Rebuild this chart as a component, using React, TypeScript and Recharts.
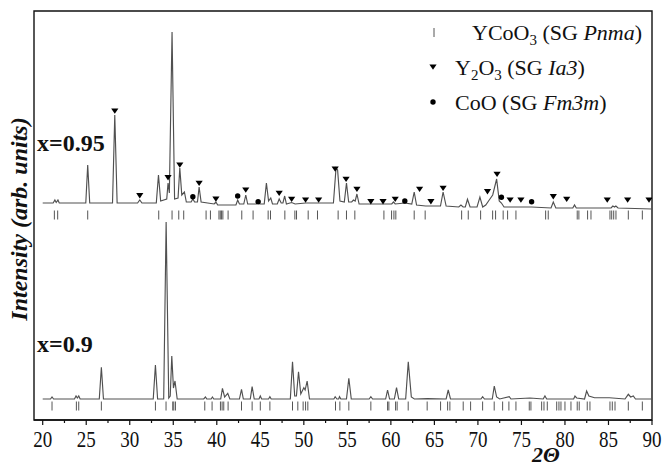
import { ComposedChart, Line, Scatter, XAxis, YAxis, ReferenceArea } from "recharts";

// XRD patterns of YCo(x)O3 samples, [2theta, intensity] pairs (arb. units)
const PATTERN_095: [number, number][] = [
  [20, 12], [21.2, 12], [21.4, 15], [21.55, 12.5], [21.75, 15], [21.9, 12],
  [24.95, 12], [25.17, 50], [25.4, 12], [28.02, 12], [28.28, 100], [28.55, 12],
  [30.9, 12], [31.15, 15], [31.4, 12], [33.05, 12], [33.3, 40], [33.55, 14],
  [34.25, 16], [34.4, 32], [34.55, 22], [34.86, 183], [35.15, 16], [35.55, 17],
  [35.75, 47], [35.98, 20], [36.28, 23], [36.5, 13], [37.05, 13], [37.25, 16],
  [37.45, 13], [37.78, 13], [37.97, 28], [38.2, 13], [39.7, 11], [39.9, 13],
  [40.1, 10], [42.2, 10], [42.4, 15], [42.6, 11], [43.1, 11], [43.33, 20],
  [43.55, 11], [44.55, 11], [44.75, 13.5], [44.95, 11], [45.45, 11], [45.7, 32],
  [45.95, 14], [46.2, 17], [46.4, 11], [46.95, 11], [47.17, 16], [47.4, 12],
  [47.6, 12], [47.8, 19], [48.0, 11], [48.6, 12.5], [49.0, 11], [50.2, 12],
  [51.7, 12], [53.4, 12], [53.7, 47], [53.88, 45], [54.15, 14], [54.65, 13],
  [54.9, 32], [55.15, 13], [55.5, 13], [55.7, 15], [55.9, 14], [56.1, 21],
  [56.35, 11], [57.7, 11], [59.1, 11], [60.1, 11], [60.3, 13], [60.5, 11],
  [61.6, 12], [62.4, 11], [62.68, 23], [62.95, 10], [64.0, 9], [65.7, 9],
  [66.0, 23], [66.35, 9], [67.8, 8], [68.05, 10], [68.3, 8], [68.55, 8],
  [68.8, 15.7], [69.1, 8], [69.9, 8], [70.23, 18], [70.55, 8], [70.9, 10],
  [71.3, 15], [71.7, 20], [72.15, 36], [72.45, 14], [72.7, 12], [73.0, 8],
  [76.17, 8], [78.4, 7], [78.66, 13], [78.95, 7], [80.9, 7], [81.1, 10],
  [81.3, 7], [85.3, 7], [85.5, 9], [85.7, 8], [85.85, 9], [86.1, 7], [90, 6],
];

const PATTERN_09: [number, number][] = [
  [20, 11], [20.9, 11], [21.07, 13], [21.25, 11], [23.65, 11], [23.83, 14],
  [23.98, 12], [24.14, 14], [24.3, 11], [26.5, 11], [26.74, 42.7], [26.98, 11],
  [32.7, 11], [32.95, 45], [33.2, 11], [33.9, 11], [34.18, 188], [34.48, 12],
  [34.65, 14], [34.83, 54], [35.02, 22], [35.2, 29], [35.45, 11], [38.5, 11],
  [38.7, 13], [38.85, 11], [39.35, 11], [39.5, 13], [39.65, 11], [40.45, 11],
  [40.65, 21.7], [40.9, 13], [41.26, 16.7], [41.5, 11], [42.6, 11], [42.84, 20.7],
  [43.05, 11], [43.85, 11], [44.06, 23.3], [44.3, 11], [44.85, 11], [45.0, 14],
  [45.15, 11], [45.95, 11], [46.1, 13.3], [46.25, 11], [48.45, 11], [48.7, 48.3],
  [48.95, 14], [49.15, 14], [49.39, 38.3], [49.65, 16], [50.0, 22.3], [50.15, 20],
  [50.38, 29], [50.65, 11], [53.45, 11], [53.6, 13.3], [53.8, 11], [54.0, 11],
  [54.1, 13.3], [54.25, 11], [54.9, 11], [55.17, 31.7], [55.45, 11], [57.5, 11],
  [57.7, 13.3], [57.9, 11], [59.4, 11], [59.62, 20], [59.85, 11], [60.4, 11],
  [60.65, 22.3], [60.9, 11], [61.7, 11], [62.0, 48.3], [62.35, 13], [62.7, 11],
  [64.2, 11.3], [66.35, 11], [66.59, 20], [66.85, 11], [70.35, 11], [70.54, 13.3],
  [70.75, 11], [71.65, 11], [71.88, 24], [72.15, 13], [72.5, 11], [73.6, 13.3],
  [73.8, 11], [75.98, 12], [77.5, 11], [77.7, 14], [77.9, 11], [81.0, 11],
  [81.15, 14], [81.35, 12], [82.25, 11], [82.49, 19], [82.75, 14], [83.4, 12.3],
  [84.4, 12.3], [85.1, 12.3], [86.9, 11], [87.28, 15.7], [87.55, 13], [87.85, 14],
  [88.1, 11], [90, 11],
];

// YCoO3 (Pnma) reflection positions drawn under each pattern
const BRAGG_095 = [
  21.34, 21.72, 25.17, 33.33, 34.86, 35.63, 36.2, 38.77, 39.27, 40.25, 40.4, 40.55,
  40.7, 41.3, 42.87, 44.17, 45.9, 46.17, 47.82, 48.97, 49.16, 50.5, 51.57, 53.94,
  54.9, 55.86, 59.2, 60.08, 60.35, 60.57, 62.68, 63.94, 68.13, 68.89, 70.31, 71.69,
  72.03, 72.9, 73.41, 74.37, 77.78, 78.08, 81.41, 81.6, 82.6, 82.99, 85.17, 85.37,
  85.6, 85.86, 87.28, 88.89,
];
const BRAGG_09 = [
  21.07, 23.87, 24.14, 26.74, 32.95, 34.17, 34.94, 35.06, 35.25, 38.62, 39.46, 40.42,
  40.61, 40.8, 41.3, 42.84, 44.06, 45.0, 46.1, 48.7, 49.31, 49.92, 50.2, 50.46,
  53.64, 54.14, 55.17, 57.7, 59.62, 59.77, 60.54, 60.72, 61.99, 64.17, 65.71, 66.52,
  66.78, 68.31, 69.16, 70.54, 71.87, 72.84, 73.56, 74.37, 75.9, 76.09, 77.32, 77.59,
  77.97, 79.05, 79.31, 79.54, 80.0, 80.69, 81.41, 81.64, 82.56, 82.87, 85.17, 85.44,
  85.75, 87.28, 88.89,
];

// impurity reflections marked above the x=0.95 pattern
const Y2O3_MARKS: [number, number][] = [
  [28.28, 104], [31.15, 19.3], [34.4, 37.3], [35.75, 50], [37.97, 31.7], [39.9, 16],
  [43.33, 25], [47.17, 21.7], [48.6, 15.7], [50.2, 15], [51.7, 15], [53.6, 46],
  [54.85, 35.7], [56.1, 25.7], [57.7, 13.3], [59.1, 13.3], [60.5, 15.7], [63.3, 25.7],
  [64.6, 13.3], [66.0, 26.7], [71.1, 23.3], [72.2, 40.7], [73.7, 15], [74.94, 15],
  [78.66, 18.3], [80.2, 15.7], [84.86, 15], [87.2, 15], [89.66, 15],
];
const COO_MARKS: [number, number][] = [
  [37.25, 18.3], [42.4, 19], [44.75, 13.3], [61.6, 14], [72.7, 17.7], [76.17, 13.3],
];

const X_TICKS = [
  20, 22.5, 25, 27.5, 30, 32.5, 35, 37.5, 40, 42.5, 45, 47.5, 50, 52.5, 55, 57.5,
  60, 62.5, 65, 67.5, 70, 72.5, 75, 77.5, 80, 82.5, 85, 87.5, 90,
];

// vertical stacking of the two patterns
const SHIFT_095 = 205;
const SHIFT_09 = 10;
const BRAGG_LEVEL_095 = 0;
const BRAGG_LEVEL_09 = 4;

const SERIF = "'Liberation Serif', 'Times New Roman', serif";
const TRACE = "#505050";

const shifted = (pts: [number, number][], shift: number) =>
  pts.map(([x, y]) => ({ x, y: y + shift }));
const braggRow = (xs: number[], level: number) => xs.map((x) => ({ x, y: level }));

const BraggTick = (props: any) => {
  const { cx, cy } = props;
  return <line x1={cx} x2={cx} y1={cy - 4.5} y2={cy + 4.5} stroke="#555" strokeWidth={1} />;
};

const DownTriangle = (props: any) => {
  const { cx, cy } = props;
  return <path d={`M${cx - 3.6},${cy - 2.6}L${cx + 3.6},${cy - 2.6}L${cx},${cy + 2.8}Z`} fill="#000" />;
};

const Dot = (props: any) => {
  const { cx, cy } = props;
  return <circle cx={cx} cy={cy} r={2.7} fill="#000" />;
};

// outward ticks: long ones labelled every 5 degrees, short ones in between
function AxisTick({ x, y, payload }: any) {
  const major = payload.value % 5 === 0;
  return (
    <g>
      <line x1={x} x2={x} y1={y} y2={y + (major ? 5 : 3)} stroke="#111" strokeWidth={1.2} />
      {major && (
        <text
          transform={`translate(${x} ${y + 26.5}) scale(1 1.18)`}
          textAnchor="middle"
          style={{ fontFamily: SERIF }}
          fontSize={19}
          fill="#111"
        >
          {payload.value}
        </text>
      )}
    </g>
  );
}

export default function App() {
  return (
    <div style={{ position: "fixed", left: 0, top: 0, width: 665, height: 466, background: "#fff" }}>
      <ComposedChart width={665} height={466} margin={{ top: 11, right: 13, left: 34, bottom: 16 }}>
        <XAxis
          dataKey="x"
          type="number"
          domain={[19, 90]}
          ticks={X_TICKS}
          interval={0}
          tickSize={0}
          tickMargin={0}
          tickLine={false}
          tick={<AxisTick />}
          height={30}
          axisLine={{ stroke: "#111", strokeWidth: 1.5 }}
          allowDataOverflow
        />
        <YAxis type="number" domain={[0, 409]} hide allowDataOverflow />
        <ReferenceArea x1={19} x2={90} y1={0} y2={409} fill="none" stroke="#111" strokeWidth={1.4} />

        <Line data={shifted(PATTERN_095, SHIFT_095)} dataKey="y" type="linear" stroke={TRACE}
          strokeWidth={1.15} dot={false} activeDot={false} isAnimationActive={false} />
        <Line data={shifted(PATTERN_09, SHIFT_09)} dataKey="y" type="linear" stroke={TRACE}
          strokeWidth={1.15} dot={false} activeDot={false} isAnimationActive={false} />

        <Scatter data={braggRow(BRAGG_095, SHIFT_095 + BRAGG_LEVEL_095)} dataKey="y"
          shape={BraggTick} isAnimationActive={false} />
        <Scatter data={braggRow(BRAGG_09, SHIFT_09 + BRAGG_LEVEL_09)} dataKey="y"
          shape={BraggTick} isAnimationActive={false} />
        <Scatter data={shifted(Y2O3_MARKS, SHIFT_095)} dataKey="y" shape={DownTriangle}
          isAnimationActive={false} />
        <Scatter data={shifted(COO_MARKS, SHIFT_095)} dataKey="y" shape={Dot}
          isAnimationActive={false} />

        {/* sample labels */}
        <text x={37} y={151} style={{ fontFamily: SERIF }} fontSize={24} fontWeight="bold" fill="#111">x=0.95</text>
        <text x={37} y={352} style={{ fontFamily: SERIF }} fontSize={24} fontWeight="bold" fill="#111">x=0.9</text>

        {/* axis titles */}
        <text x={27} y={219} transform="rotate(-90 27 219)" textAnchor="middle" style={{ fontFamily: SERIF }}
          fontSize={24} fontWeight="bold" fontStyle="italic" fill="#111">
          Intensity (arb. units)
        </text>
        <text x={546} y={462} textAnchor="middle" style={{ fontFamily: SERIF }} fontSize={22}
          fontWeight="bold" fontStyle="italic" fill="#111">
          2Θ
        </text>

        {/* phase key */}
        <g style={{ fontFamily: SERIF }} fontSize={22} fill="#111">
          <line x1={434} x2={434} y1={28} y2={37} stroke="#555" strokeWidth={1} />
          <text x={472} y={40}>
            YCoO<tspan fontSize={15} dy={5}>3</tspan>
            <tspan dy={-5}> (SG </tspan>
            <tspan fontStyle="italic">Pnma</tspan>)
          </text>
          <DownTriangle cx={433} cy={67} />
          <text x={455} y={75}>
            Y<tspan fontSize={15} dy={5}>2</tspan>
            <tspan dy={-5}>O</tspan>
            <tspan fontSize={15} dy={5}>3</tspan>
            <tspan dy={-5}> (SG </tspan>
            <tspan fontStyle="italic">Ia3</tspan>)
          </text>
          <Dot cx={433} cy={102} />
          <text x={455} y={110}>
            CoO (SG <tspan fontStyle="italic">Fm3m</tspan>)
          </text>
        </g>
      </ComposedChart>
    </div>
  );
}
